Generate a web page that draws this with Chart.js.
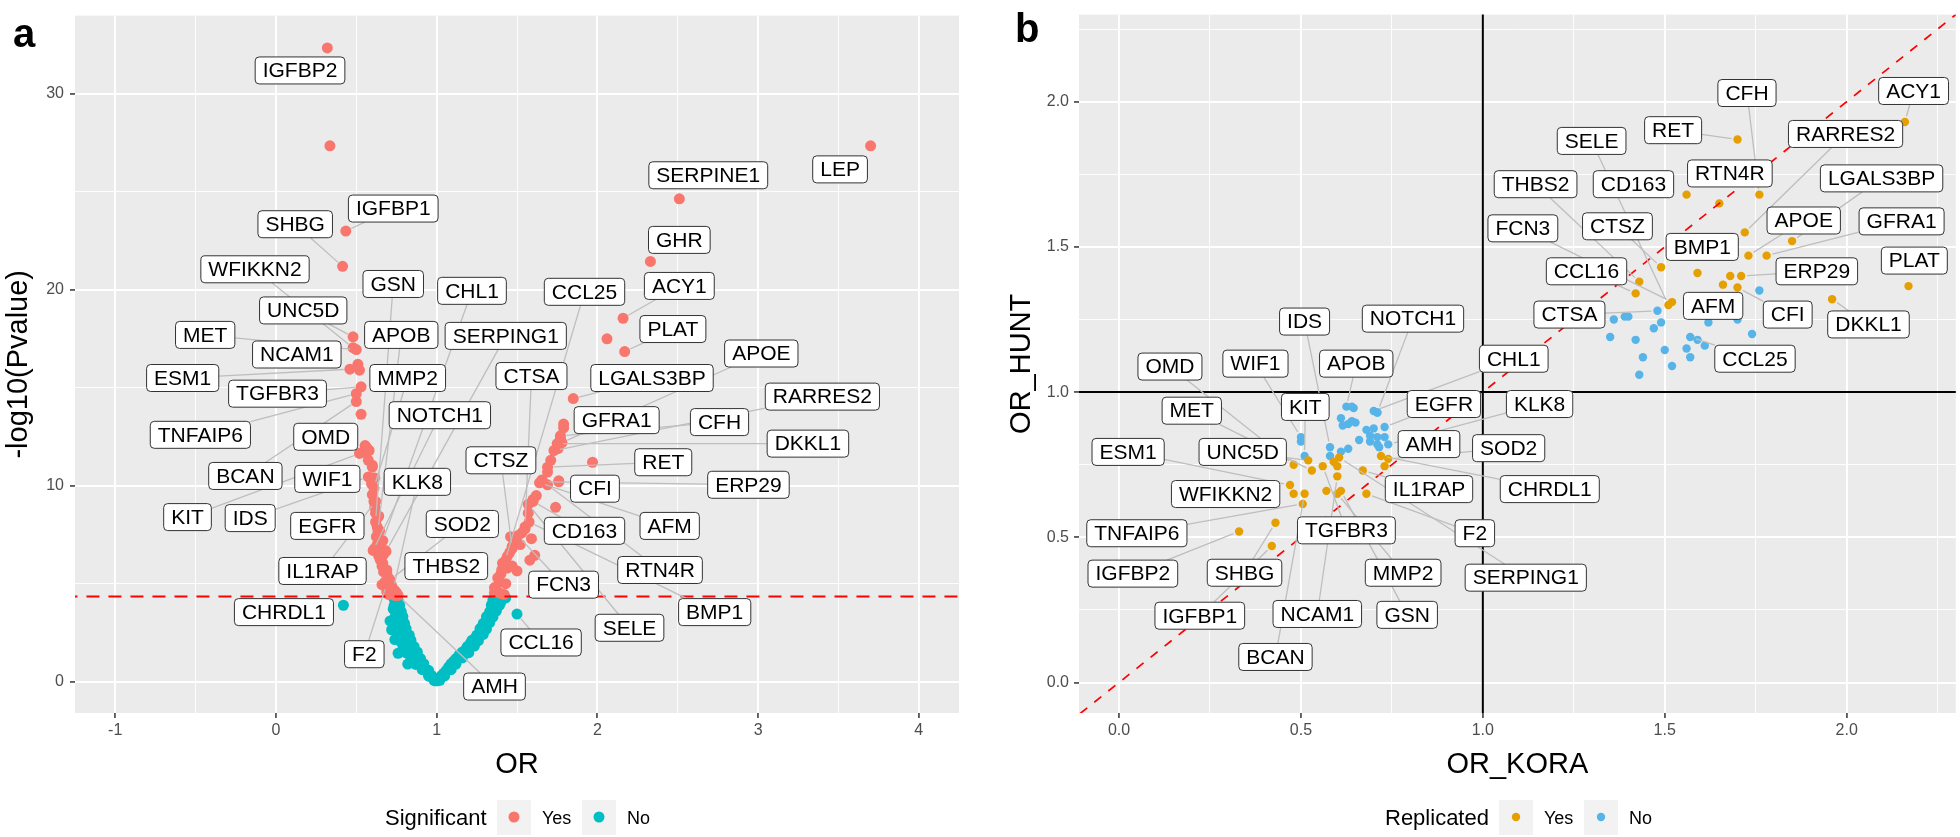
<!DOCTYPE html>
<html>
<head>
<meta charset="utf-8">
<script src="https://cdn.jsdelivr.net/npm/chart.js@4.4.1/dist/chart.umd.min.js"></script>
<style>
  html, body { margin: 0; padding: 0; background: #fff; }
  #wrap { position: relative; width: 1960px; height: 837px; }
  canvas { position: absolute; top: 0; }
  #chartA { left: 0; }
  #chartB { left: 980px; }
</style>
</head>
<body>
<div id="wrap">
  <canvas id="chartA" width="980" height="837"></canvas>
  <canvas id="chartB" width="980" height="837"></canvas>
</div>
<script>
// ---------- panel a : volcano plot ----------
const sigThreshold = 4.35;

// labelled proteins
const genesA = ["IGFBP2","IGFBP1","SHBG","WFIKKN2","GSN","CHL1","UNC5D","APOB","SERPING1","MET",
  "NCAM1","ESM1","MMP2","TGFBR3","NOTCH1","CTSA","CCL25","ACY1","GHR","SERPINE1",
  "LEP","PLAT","APOE","LGALS3BP","RARRES2","GFRA1","CFH","DKKL1","RET","ERP29",
  "CFI","AFM","CD163","RTN4R","FCN3","BMP1","SELE","CCL16","AMH","CTSZ",
  "THBS2","SOD2","KLK8","F2","IL1RAP","CHRDL1","EGFR","KIT","IDS","BCAN",
  "WIF1","OMD","TNFAIP6"];
const orA = [0.32,0.435,0.415,0.48,0.62,0.665,0.48,0.635,0.685,0.50,
  0.51,0.46,0.61,0.53,0.605,1.55,1.425,2.16,2.33,2.51,
  3.70,2.17,1.78,1.85,1.73,1.79,1.77,1.75,1.69,1.66,
  1.76,1.64,1.60,1.69,1.505,1.575,1.57,1.50,0.76,1.47,
  1.405,0.71,0.73,0.69,0.62,0.42,0.64,0.52,0.575,0.50,
  0.60,0.565,0.50];
const logpA = [32.35,23.0,21.2,17.05,8.15,7.2,17.6,7.7,6.65,16.95,
  16.2,15.95,9.9,15.05,6.7,7.9,6.15,18.55,21.45,24.65,
  27.35,16.85,12.2,14.45,11.8,12.95,12.55,12.15,10.95,10.2,
  10.2,10.15,9.2,10.05,7.45,8.15,9.05,3.45,4.4,6.8,
  5.7,5.2,4.7,5.0,9.2,3.9,8.45,11.65,10.45,14.3,
  10.95,11.95,14.7];

// other significant proteins
const sigOr = [0.336,0.52,0.53,0.555,0.535,0.58,0.60,0.575,0.615,0.595,
  0.60,0.61,0.615,0.635,0.62,0.645,0.63,0.625,0.63,0.615,
  0.68,0.64,0.665,0.66,0.69,0.69,0.70,0.68,0.66,0.72,
  0.70,0.69,0.74,0.75,0.72,0.74,0.70,0.67,0.71,0.65,0.67,
  1.97,2.06,1.79,1.77,1.755,1.71,1.69,1.655,1.76,1.62,
  1.60,1.74,1.57,1.55,1.53,1.49,1.59,1.61,1.58,1.47,
  1.455,1.44,1.41,1.44,1.50,1.40,1.38,1.39,1.36,1.38,
  1.40,1.42,1.36,1.52,1.46,1.47,1.43];
const sigLogp = [27.35,15.9,13.65,12.05,11.7,11.8,11.05,11.3,10.4,10.1,
  9.55,9.2,8.9,8.4,8.6,7.7,7.9,7.4,7.0,6.8,
  6.7,6.4,6.05,5.9,5.7,5.55,5.3,5.1,4.95,4.9,
  4.8,4.6,4.65,4.55,4.5,4.4,4.45,5.6,5.0,6.2,6.5,
  11.2,17.5,13.15,12.4,11.9,11.3,10.7,10.3,10.25,9.5,
  9.3,8.9,8.6,7.8,7.6,7.2,7.3,6.45,6.2,6.9,
  6.6,6.4,6.05,5.8,5.65,5.5,5.3,5.1,4.8,4.6,
  4.5,4.45,4.55,7.0,7.4,5.9,5.0];

// other non-significant proteins
const nsOr = [0.985,0.95,0.91,0.87,0.84,0.81,0.79,0.77,0.76,0.75,0.745,0.74,0.74,0.735,0.735,
  0.995,0.97,0.95,0.92,0.90,0.88,0.86,0.84,0.83,0.81,0.80,0.79,0.78,0.77,0.76,
  0.98,0.945,0.915,0.885,0.855,0.83,0.81,0.79,0.785,0.77,0.765,0.76,0.755,0.75,0.75,
  0.72,0.74,0.76,0.82,0.71,0.73,
  1.005,1.03,1.06,1.09,1.12,1.16,1.19,1.22,1.25,1.27,1.29,1.31,1.33,1.34,1.35,
  1.02,1.05,1.09,1.12,1.16,1.20,1.235,1.26,1.29,1.31,1.33,1.35,1.37,1.39,1.41,
  1.01,1.045,1.075,1.105,1.14,1.18,1.21,1.24,1.27,1.29,1.31,1.33,1.35,1.365,1.38,
  1.36,1.37,1.43,1.40];
const nsLogp = [0.05,0.28,0.62,0.88,1.22,1.47,1.83,2.08,2.42,2.69,3.02,3.28,3.63,3.88,4.22,
  0.04,0.31,0.58,0.92,1.18,1.52,1.79,2.12,2.38,2.71,2.98,3.32,3.58,3.91,4.18,
  0.15,0.45,0.75,1.05,1.35,1.65,1.95,2.25,2.55,2.85,3.15,3.45,3.75,4.05,4.3,
  2.65,2.15,1.45,0.9,3.1,3.7,
  0.04,0.31,0.58,0.92,1.18,1.52,1.79,2.12,2.38,2.71,2.98,3.32,3.58,3.91,4.18,
  0.07,0.29,0.61,0.89,1.21,1.48,1.82,2.09,2.41,2.68,3.01,3.29,3.62,3.89,4.21,
  0.16,0.44,0.76,1.04,1.36,1.64,1.96,2.24,2.56,2.84,3.16,3.44,3.76,4.04,4.31,
  4.33,3.6,4.28,4.05];

const xMajorA = [-1, 0, 1, 2, 3, 4];
const xMinorA = [-0.5, 0.5, 1.5, 2.5, 3.5];
const yMajorA = [0, 10, 20, 30];
const yMinorA = [5, 15, 25];

// ---------- panel b : KORA vs HUNT ----------
const genesB = ["ACY1","RET","CD163","RTN4R","CFH","RARRES2","LGALS3BP","APOE","GFRA1","CTSZ",
  "BMP1","ERP29","AFM","CFI","THBS2","CCL16","FCN3","SELE","DKKL1","PLAT",
  "CTSA","CCL25","IGFBP2","SHBG","IGFBP1","TNFAIP6","WFIKKN2","ESM1","BCAN","UNC5D",
  "OMD","WIF1","KIT","MET","IDS","APOB","NOTCH1","CHL1","EGFR","KLK8",
  "AMH","SOD2","IL1RAP","CHRDL1","F2","SERPING1","TGFBR3","NCAM1","MMP2","GSN"];
const koraB = [2.16,1.70,1.56,1.65,1.76,1.72,1.85,1.73,1.78,1.49,
  1.59,1.71,1.66,1.70,1.43,1.42,1.52,1.51,1.96,2.17,
  1.48,1.57,0.33,0.43,0.42,0.505,0.48,0.47,0.51,0.52,
  0.48,0.50,0.51,0.53,0.58,0.625,0.71,0.70,0.73,0.74,
  0.73,0.74,0.67,0.72,0.68,0.605,0.56,0.60,0.60,0.61];
const huntB = [1.93,1.87,1.68,1.65,1.68,1.55,1.52,1.47,1.47,1.43,
  1.41,1.40,1.37,1.36,1.38,1.34,1.31,1.30,1.32,1.365,
  1.28,1.19,0.52,0.55,0.47,0.615,0.65,0.68,0.65,0.765,
  0.75,0.845,0.78,0.73,0.81,0.95,0.93,0.935,0.88,0.82,
  0.845,0.77,0.73,0.78,0.65,0.775,0.745,0.71,0.65,0.66];
const replB = ["Yes","Yes","Yes","Yes","Yes","Yes","Yes","Yes","Yes","Yes",
  "Yes","Yes","Yes","Yes","Yes","Yes","Yes","Yes","Yes","Yes",
  "No","No","Yes","Yes","Yes","Yes","Yes","Yes","Yes","Yes",
  "Yes","No","No","Yes","No","No","No","No","No","No",
  "No","Yes","Yes","Yes","Yes","Yes","Yes","Yes","Yes","Yes"];

const yesKora = [1.68, 0.59, 0.60, 0.73, 0.57];
const yesHunt = [1.40, 0.76, 0.745, 0.745, 0.66];
const noKora = [1.76,1.36,1.39,1.40,1.49,1.47,1.62,1.70,1.35,1.42,
  1.59,1.74,1.61,1.56,1.50,1.44,1.57,1.52,1.43,
  0.645,0.71,0.61,0.64,0.65,0.63,0.615,0.70,0.68,0.69,
  0.71,0.50,0.66,0.69,0.71,0.715,0.58,0.63,0.61,0.64];
const noHunt = [1.35,1.25,1.26,1.26,1.24,1.22,1.24,1.25,1.19,1.18,
  1.18,1.20,1.16,1.15,1.145,1.12,1.12,1.09,1.06,
  0.945,0.93,0.91,0.90,0.895,0.89,0.885,0.875,0.87,0.85,
  0.845,0.83,0.835,0.83,0.82,0.81,0.78,0.805,0.795,0.95];

const xMajorB = [0, 0.5, 1, 1.5, 2];
const xMinorB = [0.25, 0.75, 1.25, 1.75, 2.25];
const yMajorB = [0, 0.5, 1, 1.5, 2];
const yMinorB = [0.25, 0.75, 1.25, 1.75, 2.25];

// label placement (data units), as laid out by the repel step
const labelPosA = {
  IGFBP2: [0.15, 31.2], IGFBP1: [0.73, 24.15], SHBG: [0.12, 23.35], WFIKKN2: [-0.13, 21.05],
  GSN: [0.73, 20.3], CHL1: [1.22, 19.95], UNC5D: [0.17, 18.95], APOB: [0.78, 17.7],
  SERPING1: [1.43, 17.65], MET: [-0.44, 17.7], NCAM1: [0.13, 16.7], ESM1: [-0.58, 15.5],
  MMP2: [0.82, 15.5], TGFBR3: [0.01, 14.7], NOTCH1: [1.02, 13.6], CTSA: [1.59, 15.6],
  CCL25: [1.92, 19.9], ACY1: [2.51, 20.2], GHR: [2.51, 22.55], SERPINE1: [2.69, 25.85],
  LEP: [3.51, 26.15], PLAT: [2.47, 18.0], APOE: [3.02, 16.75], LGALS3BP: [2.34, 15.5],
  RARRES2: [3.40, 14.55], GFRA1: [2.12, 13.35], CFH: [2.76, 13.25], DKKL1: [3.31, 12.15],
  RET: [2.41, 11.2], ERP29: [2.94, 10.05], CFI: [1.985, 9.85], AFM: [2.45, 7.95],
  CD163: [1.92, 7.7], RTN4R: [2.39, 5.7], FCN3: [1.79, 4.95], BMP1: [2.73, 3.55],
  SELE: [2.20, 2.75], CCL16: [1.65, 2.0], AMH: [1.36, -0.25], CTSZ: [1.40, 11.3],
  THBS2: [1.06, 5.9], SOD2: [1.16, 8.05], KLK8: [0.88, 10.2], F2: [0.55, 1.4],
  IL1RAP: [0.29, 5.65], CHRDL1: [0.05, 3.55], EGFR: [0.32, 7.95], KIT: [-0.55, 8.4],
  IDS: [-0.16, 8.35], BCAN: [-0.19, 10.5], WIF1: [0.32, 10.35], OMD: [0.31, 12.5],
  TNFAIP6: [-0.47, 12.6]
};
const labelPosB = {
  IDS: [0.51, 1.243], NOTCH1: [0.808, 1.253], OMD: [0.14, 1.088], WIF1: [0.375, 1.098],
  APOB: [0.652, 1.098], KIT: [0.512, 0.949], MET: [0.20, 0.936], EGFR: [0.893, 0.959],
  CHL1: [1.085, 1.115], KLK8: [1.156, 0.959], AMH: [0.852, 0.821], SOD2: [1.071, 0.807],
  IL1RAP: [0.852, 0.666], CHRDL1: [1.184, 0.666], F2: [0.978, 0.514], SERPING1: [1.118, 0.361],
  ESM1: [0.025, 0.794], UNC5D: [0.34, 0.794], WFIKKN2: [0.293, 0.649], TNFAIP6: [0.049, 0.514],
  IGFBP2: [0.038, 0.375], SHBG: [0.345, 0.378], IGFBP1: [0.222, 0.23], TGFBR3: [0.625, 0.524],
  NCAM1: [0.545, 0.236], BCAN: [0.43, 0.088], MMP2: [0.781, 0.378], GSN: [0.792, 0.233],
  CFH: [1.726, 2.03], ACY1: [2.184, 2.037], RET: [1.523, 1.902], SELE: [1.299, 1.865],
  RARRES2: [1.997, 1.889], RTN4R: [1.679, 1.753], THBS2: [1.145, 1.716], CD163: [1.414, 1.716],
  LGALS3BP: [2.096, 1.736], FCN3: [1.11, 1.564], CTSZ: [1.37, 1.571], APOE: [1.882, 1.591],
  GFRA1: [2.151, 1.588], BMP1: [1.603, 1.50], PLAT: [2.186, 1.453], CCL16: [1.285, 1.416],
  ERP29: [1.918, 1.416], CTSA: [1.238, 1.267], AFM: [1.633, 1.297], CFI: [1.838, 1.267],
  DKKL1: [2.06, 1.233], CCL25: [1.748, 1.115]
};

const FONT = '"Liberation Sans", Arial, Helvetica, sans-serif';
Chart.defaults.font.family = FONT;

function makeAxis(min, max, majors, minors, fmt, fitKey, fitSize, pad) {
  const all = majors.concat(minors).sort((a, b) => a - b);
  const isMajor = (v) => majors.includes(v);
  return {
    type: "linear",
    min: min,
    max: max,
    afterBuildTicks: (scale) => { scale.ticks = all.map((v) => ({ value: v })); },
    afterFit: (scale) => { scale[fitKey] = fitSize; },
    ticks: {
      autoSkip: false,
      maxRotation: 0,
      padding: pad,
      color: "#4D4D4D",
      font: { size: 16 },
      callback: (v) => (isMajor(v) ? fmt(v) : ""),
    },
    grid: {
      color: "#FFFFFF",
      lineWidth: (c) => (c.tick && isMajor(c.tick.value) ? 1.9 : 0.9),
      drawTicks: true,
      tickLength: 5,
      tickWidth: 1.5,
      tickColor: (c) => (c.tick && isMajor(c.tick.value) ? "#333333" : "rgba(0,0,0,0)"),
    },
    border: { display: false },
  };
}

const panelBg = {
  id: "panelBg",
  beforeDraw(chart) {
    const { ctx, chartArea: a } = chart;
    ctx.save();
    ctx.fillStyle = "#FFFFFF";
    ctx.fillRect(0, 0, chart.width, chart.height);
    ctx.fillStyle = "#EBEBEB";
    ctx.fillRect(a.left, a.top, a.right - a.left, a.bottom - a.top);
    ctx.restore();
  },
};

// boxed labels with grey connector segments (ggrepel look)
function makeLabels(names, xs, ys, layout) {
  return {
    id: "repelLabels",
    afterDatasetsDraw(chart) {
      const { ctx, scales: { x, y } } = chart;
      ctx.save();
      ctx.font = "21px " + FONT;
      const boxes = names.map((name, i) => {
        const pos = layout[name];
        return {
          name: name,
          cx: x.getPixelForValue(pos[0]),
          cy: y.getPixelForValue(pos[1]),
          w: ctx.measureText(name).width + 15,
          h: 27,
          px: x.getPixelForValue(xs[i]),
          py: y.getPixelForValue(ys[i]),
        };
      });
      ctx.strokeStyle = "#BEBEBE";
      ctx.lineWidth = 1.3;
      boxes.forEach((b) => {
        const dx = b.px - b.cx, dy = b.py - b.cy;
        const tx = dx !== 0 ? b.w / 2 / Math.abs(dx) : Infinity;
        const ty = dy !== 0 ? b.h / 2 / Math.abs(dy) : Infinity;
        const t0 = Math.min(tx, ty);
        if (t0 >= 1) return;
        const len = Math.hypot(dx, dy);
        if (len * (1 - t0) - 6 < 12) return;
        const t1 = 1 - 6 / len;
        ctx.beginPath();
        ctx.moveTo(b.cx + dx * t0, b.cy + dy * t0);
        ctx.lineTo(b.cx + dx * t1, b.cy + dy * t1);
        ctx.stroke();
      });
      boxes.forEach((b) => {
        ctx.beginPath();
        ctx.roundRect(b.cx - b.w / 2, b.cy - b.h / 2, b.w, b.h, 4);
        ctx.fillStyle = "#FFFFFF";
        ctx.fill();
        ctx.strokeStyle = "#333333";
        ctx.lineWidth = 1;
        ctx.stroke();
        ctx.fillStyle = "#000000";
        ctx.textAlign = "center";
        ctx.textBaseline = "middle";
        ctx.fillText(b.name, b.cx, b.cy + 1);
      });
      ctx.restore();
    },
  };
}

// panel letter, axis titles and legend
function makeDecor(cfg) {
  return {
    id: "decor",
    afterDraw(chart) {
      const { ctx, chartArea: a } = chart;
      ctx.save();
      ctx.fillStyle = "#000000";
      ctx.textBaseline = "alphabetic";
      ctx.textAlign = "left";
      ctx.font = "bold 40px " + FONT;
      ctx.fillText(cfg.letter, cfg.letterX, cfg.letterY);

      ctx.font = "29px " + FONT;
      ctx.textAlign = "center";
      ctx.fillText(cfg.xTitle, (a.left + a.right) / 2, 773);
      ctx.save();
      ctx.translate(cfg.yTitleX, (a.top + a.bottom) / 2);
      ctx.rotate(-Math.PI / 2);
      ctx.fillText(cfg.yTitle, 0, 0);
      ctx.restore();

      ctx.textAlign = "left";
      ctx.font = "22px " + FONT;
      ctx.fillText(cfg.legendTitle, cfg.legendX, 825);
      cfg.keys.forEach((k, i) => {
        const kx = cfg.keyX + i * 85;
        ctx.fillStyle = "#F2F2F2";
        ctx.fillRect(kx, 800, 34, 35);
        ctx.fillStyle = k.color;
        ctx.beginPath();
        ctx.arc(kx + 17, 817, cfg.radius, 0, Math.PI * 2);
        ctx.fill();
        ctx.fillStyle = "#000000";
        ctx.font = "18px " + FONT;
        ctx.fillText(k.label, kx + 45, 824);
      });
      ctx.restore();
    },
  };
}

function toPoints(xs, ys) {
  return xs.map((v, i) => ({ x: v, y: ys[i] }));
}

function initVolcano() {
  const sigPts = toPoints(sigOr, sigLogp);
  const nsPts = toPoints(nsOr, nsLogp);
  genesA.forEach((g, i) => {
    const p = { x: orA[i], y: logpA[i] };
    if (logpA[i] > sigThreshold) sigPts.push(p);
    else nsPts.push(p);
  });

  new Chart(document.getElementById("chartA"), {
    type: "scatter",
    data: {
      datasets: [
        {
          type: "line",
          data: [{ x: -2, y: sigThreshold }, { x: 5, y: sigThreshold }],
          borderColor: "#FF0000",
          borderWidth: 2,
          borderDash: [13, 9],
          pointRadius: 0,
          order: 0,
        },
        { label: "Yes", data: sigPts, backgroundColor: "#F8766D", pointRadius: 5.5, borderWidth: 0, order: 1 },
        { label: "No", data: nsPts, backgroundColor: "#00BFC4", pointRadius: 5.5, borderWidth: 0, order: 2 },
      ],
    },
    options: {
      responsive: false,
      animation: false,
      devicePixelRatio: 1,
      events: [],
      layout: { padding: { top: 1, right: 21, left: 0, bottom: 0 } },
      plugins: { legend: { display: false }, tooltip: { enabled: false } },
      scales: {
        x: makeAxis(-1.25, 4.25, xMajorA, xMinorA, (v) => String(v), "height", 124, 3),
        y: makeAxis(-1.6, 34, yMajorA, yMinorA, (v) => String(v), "width", 75, 6),
      },
    },
    plugins: [
      panelBg,
      makeLabels(genesA, orA, logpA, labelPosA),
      makeDecor({
        letter: "a", letterX: 13, letterY: 47,
        xTitle: "OR", yTitle: "-log10(Pvalue)", yTitleX: 27,
        legendTitle: "Significant", legendX: 385, keyX: 497, radius: 5.5,
        keys: [{ label: "Yes", color: "#F8766D" }, { label: "No", color: "#00BFC4" }],
      }),
    ],
  });
}

function initReplication() {
  const yesPts = toPoints(yesKora, yesHunt);
  const noPts = toPoints(noKora, noHunt);
  genesB.forEach((g, i) => {
    const p = { x: koraB[i], y: huntB[i] };
    if (replB[i] === "Yes") yesPts.push(p);
    else noPts.push(p);
  });

  new Chart(document.getElementById("chartB"), {
    type: "scatter",
    data: {
      datasets: [
        {
          type: "line",
          data: [{ x: -0.3, y: -0.3 }, { x: 2.5, y: 2.5 }],
          borderColor: "#FF0000",
          borderWidth: 1.7,
          borderDash: [9, 9],
          pointRadius: 0,
          order: 0,
        },
        {
          type: "line",
          data: [{ x: -0.3, y: 1 }, { x: 2.5, y: 1 }],
          borderColor: "#000000",
          borderWidth: 2,
          pointRadius: 0,
          order: 0,
        },
        {
          type: "line",
          data: [{ x: 1, y: -0.3 }, { x: 1, y: 2.5 }],
          borderColor: "#000000",
          borderWidth: 2,
          pointRadius: 0,
          order: 0,
        },
        { label: "Yes", data: yesPts, backgroundColor: "#E69F00", pointRadius: 4.2, borderWidth: 0, order: 1 },
        { label: "No", data: noPts, backgroundColor: "#56B4E9", pointRadius: 4.2, borderWidth: 0, order: 2 },
      ],
    },
    options: {
      responsive: false,
      animation: false,
      devicePixelRatio: 1,
      events: [],
      layout: { padding: { top: 1, right: 2, left: 0, bottom: 0 } },
      plugins: { legend: { display: false }, tooltip: { enabled: false } },
      scales: {
        x: makeAxis(-0.11, 2.30, xMajorB, xMinorB, (v) => v.toFixed(1), "height", 124, 3),
        y: makeAxis(-0.105, 2.30, yMajorB, yMinorB, (v) => v.toFixed(1), "width", 99, 5),
      },
    },
    plugins: [
      panelBg,
      makeLabels(genesB, koraB, huntB, labelPosB),
      makeDecor({
        letter: "b", letterX: 35, letterY: 42,
        xTitle: "OR_KORA", yTitle: "OR_HUNT", yTitleX: 50,
        legendTitle: "Replicated", legendX: 405, keyX: 519, radius: 4.2,
        keys: [{ label: "Yes", color: "#E69F00" }, { label: "No", color: "#56B4E9" }],
      }),
    ],
  });
}

initVolcano();
initReplication();
</script>
</body>
</html>
